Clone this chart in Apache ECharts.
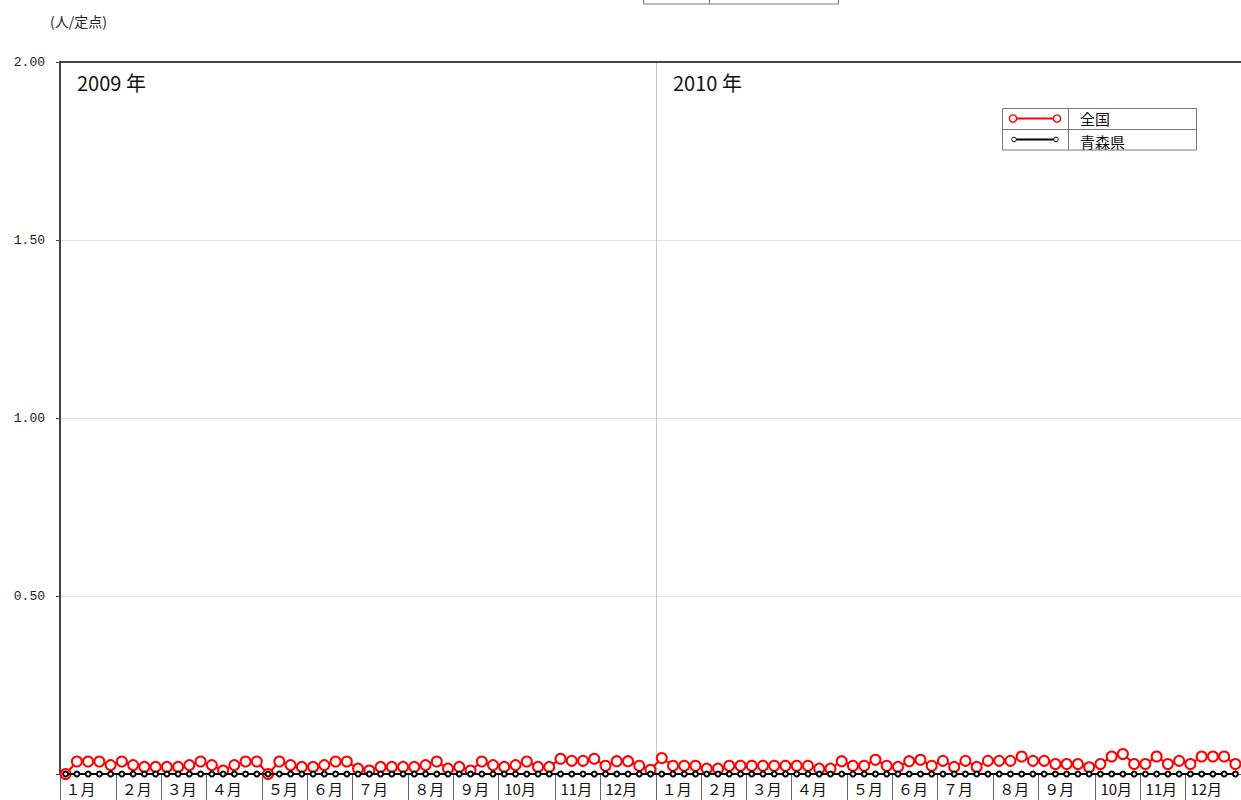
<!DOCTYPE html>
<html>
<head>
<meta charset="utf-8">
<script src="https://cdn.jsdelivr.net/npm/echarts@6/dist/echarts.min.js"></script>
<style>
html,body{margin:0;padding:0;background:#fff;}
#chart{width:1241px;height:800px;}
</style>
</head>
<body>
<div id="chart"></div>
<script>
// ---- data ----
const years = ['2009', '2010'];
const seriesNames = ['全国', '青森県'];
const yAxisUnit = '(人/定点)';
// weeks per month (week-based months)
const monthWeeks2009 = [5, 4, 4, 5, 4, 4, 5, 4, 4, 5, 4, 5];
const monthWeeks2010 = [4, 4, 4, 5, 4, 4, 5, 4, 5, 4, 4, 5];
const monthLabels = ['１月', '２月', '３月', '４月', '５月', '６月', '７月', '８月', '９月', '10月', '11月', '12月'];
const yTickLabels = ['', '0.50', '1.00', '1.50', '2.00'];

// 全国 (per sentinel), weekly
const national2009 = [0, 0.035, 0.035, 0.035, 0.025, 0.035, 0.025, 0.02, 0.02, 0.02,
  0.02, 0.025, 0.035, 0.025, 0.01, 0.025, 0.035, 0.035, 0, 0.035,
  0.025, 0.02, 0.02, 0.025, 0.035, 0.035, 0.015, 0.01, 0.02, 0.02,
  0.02, 0.02, 0.025, 0.035, 0.015, 0.02, 0.01, 0.035, 0.025, 0.02,
  0.025, 0.035, 0.02, 0.02, 0.043, 0.037, 0.037, 0.043, 0.023, 0.036,
  0.036, 0.023, 0.012];
const national2010 = [0.045, 0.023, 0.023, 0.023, 0.015, 0.015, 0.023, 0.023, 0.023, 0.023,
  0.023, 0.023, 0.023, 0.023, 0.015, 0.015, 0.036, 0.023, 0.023, 0.04,
  0.023, 0.02, 0.036, 0.04, 0.023, 0.037, 0.02, 0.037, 0.02, 0.037,
  0.037, 0.037, 0.049, 0.037, 0.037, 0.028, 0.028, 0.028, 0.019, 0.028,
  0.049, 0.056, 0.028, 0.028, 0.049, 0.028, 0.037, 0.028, 0.049, 0.049,
  0.049, 0.028];
// 青森県
const aomori2009 = [0, 0, 0, 0, 0, 0, 0, 0, 0, 0, 0, 0, 0, 0, 0, 0, 0, 0, 0, 0,
  0, 0, 0, 0, 0, 0, 0, 0, 0, 0, 0, 0, 0, 0, 0, 0, 0, 0, 0, 0,
  0, 0, 0, 0, 0, 0, 0, 0, 0, 0, 0, 0, 0];
const aomori2010 = [0, 0, 0, 0, 0, 0, 0, 0, 0, 0, 0, 0, 0, 0, 0, 0, 0, 0, 0, 0,
  0, 0, 0, 0, 0, 0, 0, 0, 0, 0, 0, 0, 0, 0, 0, 0, 0, 0, 0, 0,
  0, 0, 0, 0, 0, 0, 0, 0, 0, 0, 0, 0];

// ---- build categories & month starts ----
const categories = [];
const labelAt = {};
const monthStart = new Set();
let yearStart2010 = 0;
[[years[0], monthWeeks2009], [years[1], monthWeeks2010]].forEach(([y, mw], yi) => {
  if (yi === 1) yearStart2010 = categories.length;
  mw.forEach((n, m) => {
    monthStart.add(categories.length);
    labelAt[categories.length] = monthLabels[m];
    for (let w = 0; w < n; w++) categories.push(y + '-' + (m + 1) + '-' + (w + 1));
  });
});
const national = national2009.concat(national2010);
const aomori = aomori2009.concat(aomori2010);

const RED = '#ff0000';
const BLACK = '#000000';
const jp = '"Noto Sans CJK JP", "Noto Sans", sans-serif';

const chart = echarts.init(document.getElementById('chart'), null, {renderer: 'svg'});
chart.setOption({
  animation: false,
  backgroundColor: '#ffffff',
  grid: {left: 60, right: 0, top: 62, bottom: 26, containLabel: false},
  xAxis: [{
    type: 'category',
    data: categories,
    boundaryGap: true,
    axisLine: {show: true, lineStyle: {color: '#555', width: 1}},
    axisTick: {show: true, interval: (i) => monthStart.has(i), length: 26, lineStyle: {color: '#666', width: 1}},
    axisLabel: {
      show: true,
      interval: (i) => monthStart.has(i),
      formatter: (v, i) => labelAt[i] || '',
      align: 'left',
      verticalAlign: 'top',
      margin: 5,
      fontSize: 15,
      lineHeight: 18,
      fontFamily: jp,
      color: '#111'
    },
    splitLine: {show: true, interval: (i) => i === 0 || i === yearStart2010, lineStyle: {color: '#c8c8c8', width: 1}}
  }, {
    type: 'category',
    data: categories,
    position: 'top',
    axisLine: {show: true, lineStyle: {color: '#444', width: 2}},
    axisTick: {show: false},
    axisLabel: {show: false},
    splitLine: {show: false}
  }],
  yAxis: {
    type: 'value',
    min: 0, max: 2, interval: 0.5,
    axisLine: {show: true, lineStyle: {color: '#444', width: 2}},
    axisTick: {show: true, length: 4, lineStyle: {color: '#444'}},
    axisLabel: {
      formatter: (v) => yTickLabels[Math.round(v / 0.5)],
      margin: 15,
      fontFamily: '"Liberation Mono", "DejaVu Sans Mono", monospace',
      fontSize: 13,
      color: '#222'
    },
    splitLine: {show: true, lineStyle: {color: '#e2e2e2', width: 1}}
  },
  series: [{
    name: seriesNames[0],
    type: 'line',
    data: national,
    symbol: 'emptyCircle',
    symbolSize: 10,
    showSymbol: true,
    showAllSymbol: true,
    lineStyle: {color: RED, width: 2},
    itemStyle: {color: RED, borderWidth: 1.3},
    z: 2
  }, {
    name: seriesNames[1],
    type: 'line',
    data: aomori,
    symbol: 'emptyCircle',
    symbolSize: 5,
    showSymbol: true,
    showAllSymbol: true,
    lineStyle: {color: BLACK, width: 2},
    itemStyle: {color: BLACK, borderWidth: 1},
    z: 3
  }],
  graphic: [
    {type: 'text', x: 50, y: 21, style: {text: yAxisUnit, font: '14px ' + jp, fill: '#222', verticalAlign: 'middle'}},
    {type: 'text', x: 77, y: 82, style: {text: years[0] + ' 年', font: '20px ' + jp, fill: '#111', verticalAlign: 'middle'}},
    {type: 'text', x: 673, y: 82, style: {text: years[1] + ' 年', font: '20px ' + jp, fill: '#111', verticalAlign: 'middle'}},
    // legend table
    {type: 'rect', shape: {x: 1002.5, y: 108.5, width: 194, height: 41.5}, style: {fill: '#fff', stroke: '#777', lineWidth: 1}, z: 10},
    {type: 'line', shape: {x1: 1068.5, y1: 108.5, x2: 1068.5, y2: 150}, style: {stroke: '#777', lineWidth: 1}, z: 11},
    {type: 'line', shape: {x1: 1002.5, y1: 129.5, x2: 1196.5, y2: 129.5}, style: {stroke: '#777', lineWidth: 1}, z: 11},
    {type: 'line', shape: {x1: 1013, y1: 118.5, x2: 1057, y2: 118.5}, style: {stroke: RED, lineWidth: 2}, z: 11},
    {type: 'circle', shape: {cx: 1013, cy: 118.5, r: 3.6}, style: {fill: '#fff', stroke: RED, lineWidth: 1.4}, z: 12},
    {type: 'circle', shape: {cx: 1057, cy: 118.5, r: 3.6}, style: {fill: '#fff', stroke: RED, lineWidth: 1.4}, z: 12},
    {type: 'line', shape: {x1: 1014, y1: 139.5, x2: 1056, y2: 139.5}, style: {stroke: BLACK, lineWidth: 2}, z: 11},
    {type: 'circle', shape: {cx: 1014, cy: 139.5, r: 2.3}, style: {fill: '#fff', stroke: BLACK, lineWidth: 1}, z: 12},
    {type: 'circle', shape: {cx: 1056, cy: 139.5, r: 2.3}, style: {fill: '#fff', stroke: BLACK, lineWidth: 1}, z: 12},
    {type: 'text', x: 1080, y: 118, style: {text: seriesNames[0], font: '15px ' + jp, lineHeight: 16, fill: '#111', verticalAlign: 'middle'}, z: 12},
    {type: 'text', x: 1080, y: 141, style: {text: seriesNames[1], font: '15px ' + jp, lineHeight: 16, fill: '#111', verticalAlign: 'middle'}, z: 12},
    // partially visible box at top
    {type: 'polyline', shape: {points: [[643.5, 0], [643.5, 4], [838.5, 4], [838.5, 0]]}, style: {stroke: '#777', lineWidth: 1, fill: null}},
    {type: 'line', shape: {x1: 709.5, y1: 0, x2: 709.5, y2: 4}, style: {stroke: '#777', lineWidth: 1}}
  ]
});
</script>
</body>
</html>
